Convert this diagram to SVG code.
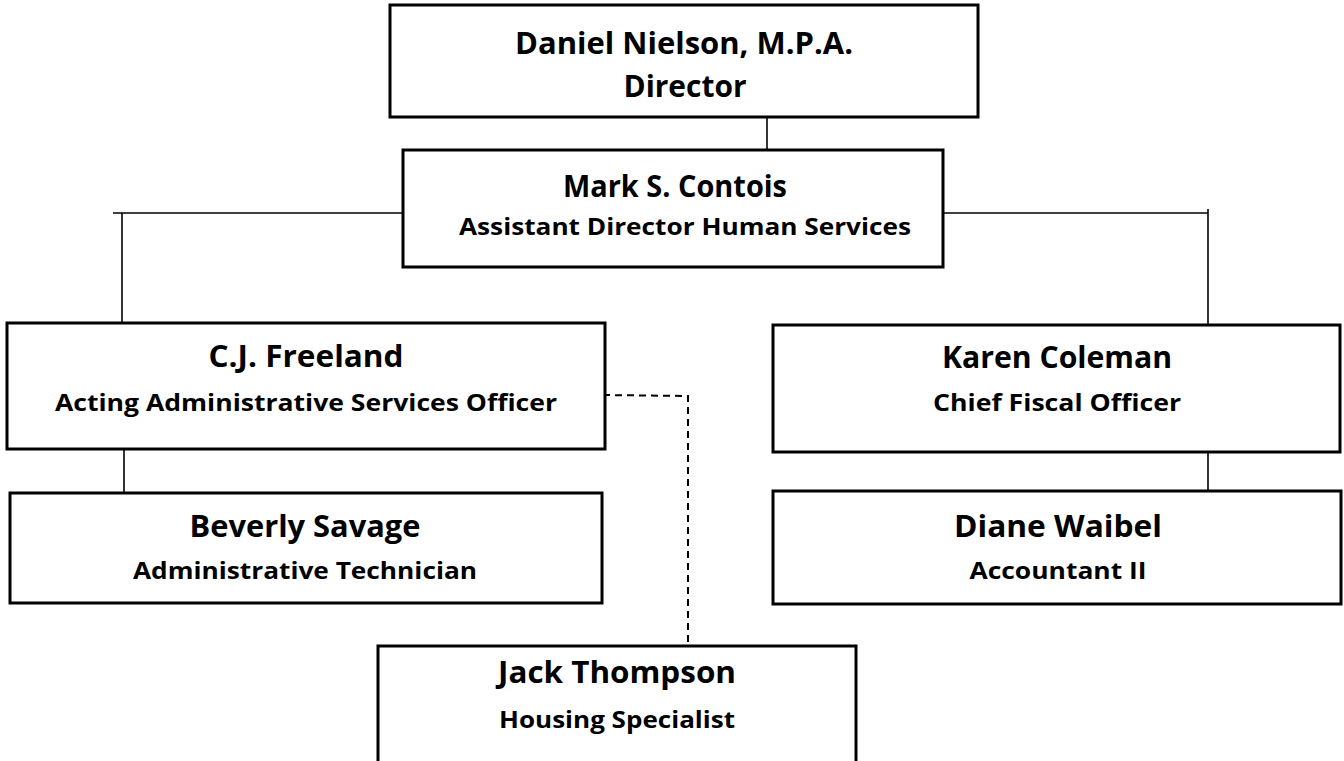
<svg xmlns="http://www.w3.org/2000/svg" width="1344" height="761" viewBox="0 0 1344 761">
<style>
.box{fill:#fff;stroke:#000;stroke-width:3}
.name{font-family:"Open Sans","Liberation Sans",sans-serif;font-weight:bold;font-size:30px;text-anchor:middle;fill:#000}
.title{font-family:"Open Sans","Liberation Sans",sans-serif;font-weight:bold;font-size:23px;text-anchor:middle;fill:#000}
.line{stroke:#000;stroke-width:1.6;fill:none}
.dash{stroke:#000;stroke-width:2;fill:none;stroke-dasharray:7 5}
</style>
<rect width="1344" height="761" fill="#fff"/>
<g id="connectors">
<line class="line" x1="767" y1="117" x2="767" y2="150"/>
<polyline class="line" points="403,213 113,213"/>
<line class="line" x1="122" y1="213" x2="122" y2="323"/>
<polyline class="line" points="943,213 1208,213"/>
<line class="line" x1="1208" y1="209" x2="1208" y2="325"/>
<line class="line" x1="124" y1="449" x2="124" y2="493"/>
<line class="line" x1="1208" y1="452" x2="1208" y2="491"/>
<polyline class="dash" points="603,395 688,396 688,646"/>
</g>
<g id="n-nielson">
<rect class="box" x="390" y="5" width="588" height="112"/>
<text class="name" x="684" y="54" textLength="338" lengthAdjust="spacingAndGlyphs">Daniel Nielson, M.P.A.</text>
<text class="name" x="685" y="97" textLength="123" lengthAdjust="spacingAndGlyphs">Director</text>
</g>
<g id="n-contois">
<rect class="box" x="403" y="150" width="540" height="117"/>
<text class="name" x="675" y="197" textLength="224" lengthAdjust="spacingAndGlyphs">Mark S. Contois</text>
<text class="title" x="685" y="235" textLength="452" lengthAdjust="spacingAndGlyphs">Assistant Director Human Services</text>
</g>
<g id="n-freeland">
<rect class="box" x="7" y="323" width="598" height="126"/>
<text class="name" x="306" y="367" textLength="195" lengthAdjust="spacingAndGlyphs">C.J. Freeland</text>
<text class="title" x="306" y="411" textLength="502" lengthAdjust="spacingAndGlyphs">Acting Administrative Services Officer</text>
</g>
<g id="n-coleman">
<rect class="box" x="773" y="325" width="567" height="127"/>
<text class="name" x="1057" y="368" textLength="230" lengthAdjust="spacingAndGlyphs">Karen Coleman</text>
<text class="title" x="1057" y="411" textLength="248" lengthAdjust="spacingAndGlyphs">Chief Fiscal Officer</text>
</g>
<g id="n-savage">
<rect class="box" x="10" y="493" width="592" height="110"/>
<text class="name" x="305" y="537" textLength="231" lengthAdjust="spacingAndGlyphs">Beverly Savage</text>
<text class="title" x="305" y="579" textLength="344" lengthAdjust="spacingAndGlyphs">Administrative Technician</text>
</g>
<g id="n-waibel">
<rect class="box" x="773" y="491" width="568" height="113"/>
<text class="name" x="1058" y="537" textLength="208" lengthAdjust="spacingAndGlyphs">Diane Waibel</text>
<text class="title" x="1058" y="579" textLength="177" lengthAdjust="spacingAndGlyphs">Accountant II</text>
</g>
<g id="n-thompson">
<rect class="box" x="378" y="646" width="478" height="130"/>
<text class="name" x="617" y="683" textLength="238" lengthAdjust="spacingAndGlyphs">Jack Thompson</text>
<text class="title" x="617" y="728" textLength="236" lengthAdjust="spacingAndGlyphs">Housing Specialist</text>
</g>
</svg>
